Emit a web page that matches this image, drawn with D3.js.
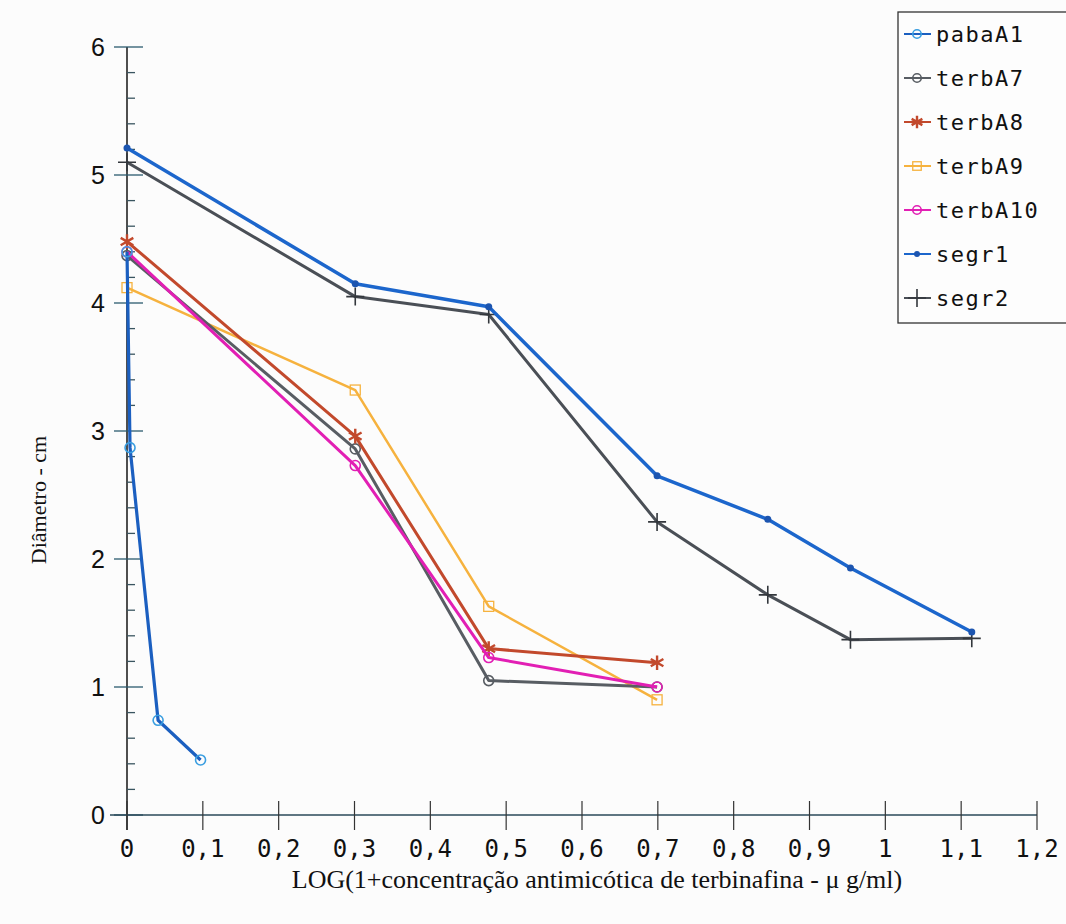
<!DOCTYPE html>
<html>
<head>
<meta charset="utf-8">
<script src="https://cdn.jsdelivr.net/npm/d3@7"></script>
<style>
  body { margin: 0; background: #fcfcfc; }
  svg { display: block; }
</style>
</head>
<body>
<svg id="chart" width="1066" height="924"></svg>
<script>
// log(1+conc) positions and diameters (cm)
var xTicks = [0, 0.1, 0.2, 0.3, 0.4, 0.5, 0.6, 0.7, 0.8, 0.9, 1, 1.1, 1.2];
var yTicks = [0, 1, 2, 3, 4, 5, 6];

var pabaA1X = [0, 0.004, 0.041, 0.097];
var pabaA1Y = [4.40, 2.87, 0.74, 0.43];
var terbX = [0, 0.301, 0.477, 0.699];
var terbA7Y = [4.37, 2.86, 1.05, 1.00];
var terbA8Y = [4.48, 2.96, 1.30, 1.19];
var terbA9Y = [4.12, 3.32, 1.63, 0.90];
var terbA10Y = [4.40, 2.73, 1.23, 1.00];
var segrX = [0, 0.301, 0.477, 0.699, 0.845, 0.954, 1.114];
var segr1Y = [5.21, 4.15, 3.97, 2.65, 2.31, 1.93, 1.43];
var segr2Y = [5.10, 4.05, 3.91, 2.29, 1.72, 1.37, 1.38];

var names = ["pabaA1", "terbA7", "terbA8", "terbA9", "terbA10", "segr1", "segr2"];

var series = [
  {name: "pabaA1", xs: pabaA1X, ys: pabaA1Y, line: "#1b5fc0", mark: "#3a9ee0", w: 3.2, sym: "circle"},
  {name: "terbA7", xs: terbX, ys: terbA7Y, line: "#585d63", mark: "#585d63", w: 3, sym: "circle"},
  {name: "terbA8", xs: terbX, ys: terbA8Y, line: "#c2492c", mark: "#c2492c", w: 3, sym: "star"},
  {name: "terbA9", xs: terbX, ys: terbA9Y, line: "#f6b23e", mark: "#f6b23e", w: 2.5, sym: "square"},
  {name: "terbA10", xs: terbX, ys: terbA10Y, line: "#e21fb4", mark: "#e21fb4", w: 3, sym: "circle"},
  {name: "segr1", xs: segrX, ys: segr1Y, line: "#1c66cc", mark: "#1c55b0", w: 3.5, sym: "dot"},
  {name: "segr2", xs: segrX, ys: segr2Y, line: "#4a4f56", mark: "#33373c", w: 3, sym: "plus"}
];

var svg = d3.select("svg#chart");

var x = d3.scaleLinear().domain([0, 1.2]).range([127, 1037]);
var y = d3.scaleLinear().domain([0, 6]).range([815, 47]);

// y axis
var g = svg.append("g");
g.append("line").attr("x1", x(0)).attr("x2", x(0)).attr("y1", y(6)).attr("y2", y(0) + 15)
  .attr("stroke", "#222").attr("stroke-width", 1.6);
d3.range(0, 6.01, 0.2).forEach(function(v) {
  var major = Math.abs(v - Math.round(v)) < 1e-6;
  g.append("line")
    .attr("x1", x(0) - (major ? 13 : 0)).attr("x2", x(0) + (major ? 16 : 8))
    .attr("y1", y(v)).attr("y2", y(v))
    .attr("stroke", major ? "#2b5a6e" : "#3a5560").attr("stroke-width", 1.3);
});
g.selectAll(".ylab").data(yTicks).enter().append("text")
  .attr("x", 105).attr("y", function(d) { return y(d); })
  .attr("dy", "0.36em").attr("text-anchor", "end")
  .attr("font-family", "Liberation Sans, Arial, sans-serif").attr("font-size", 25)
  .attr("fill", "#111").text(function(d) { return d; });

// x axis
g.append("line").attr("x1", x(0) - 17).attr("x2", x(1.2)).attr("y1", y(0)).attr("y2", y(0))
  .attr("stroke", "#2b4a5a").attr("stroke-width", 1.6);
g.selectAll(".xt").data(xTicks).enter().append("line")
  .attr("x1", function(d) { return x(d); }).attr("x2", function(d) { return x(d); })
  .attr("y1", y(0) - 14).attr("y2", y(0) + 15)
  .attr("stroke", "#333").attr("stroke-width", 1.2);
g.selectAll(".xlab").data(xTicks).enter().append("text")
  .attr("x", function(d) { return x(d); }).attr("y", y(0) + 42)
  .attr("text-anchor", "middle")
  .attr("font-family", "DejaVu Sans Mono, monospace").attr("font-size", 24)
  .attr("fill", "#111")
  .text(function(d) { return String(d).replace(".", ","); });

// axis titles
svg.append("text")
  .attr("transform", "translate(46," + 500 + ") rotate(-90)")
  .attr("text-anchor", "middle")
  .attr("font-family", "Liberation Serif, Times New Roman, serif").attr("font-size", 22)
  .attr("fill", "#111").text("Diâmetro - cm");
svg.append("text")
  .attr("x", 597).attr("y", 888).attr("text-anchor", "middle")
  .attr("font-family", "Liberation Serif, Times New Roman, serif").attr("font-size", 26)
  .attr("fill", "#111")
  .text("LOG(1+concentração antimicótica de terbinafina -  \u03BC g/ml)");

// lines
var line = d3.line().x(function(d) { return x(d[0]); }).y(function(d) { return y(d[1]); });

function drawMarker(sel, s, cx, cy, scale) {
  var k = scale || 1;
  if (s.sym === "circle") {
    sel.append("circle").attr("cx", cx).attr("cy", cy).attr("r", 5 * k)
      .attr("fill", "none").attr("stroke", s.mark).attr("stroke-width", 1.6);
  } else if (s.sym === "square") {
    sel.append("rect").attr("x", cx - 5 * k).attr("y", cy - 5 * k)
      .attr("width", 10 * k).attr("height", 10 * k)
      .attr("fill", "none").attr("stroke", s.mark).attr("stroke-width", 1.3);
  } else if (s.sym === "star") {
    sel.append("path").attr("transform", "translate(" + cx + "," + cy + ")")
      .attr("d", d3.symbol().type(d3.symbolAsterisk).size(150 * k * k)())
      .attr("fill", "none").attr("stroke", s.mark).attr("stroke-width", 2.4);
  } else if (s.sym === "dot") {
    sel.append("circle").attr("cx", cx).attr("cy", cy).attr("r", 3.5 * k).attr("fill", s.mark);
  } else if (s.sym === "plus") {
    sel.append("path").attr("transform", "translate(" + cx + "," + cy + ")")
      .attr("d", "M-9,0H9M0,-9V9").attr("stroke", s.mark).attr("stroke-width", 1.6);
  }
}

// draw back-to-front so pabaA1 sits on top near the axis
var order = [6, 5, 3, 1, 2, 4, 0];
order.forEach(function(i) {
  var s = series[i];
  var pts = s.xs.map(function(v, j) { return [v, s.ys[j]]; });
  var sg = svg.append("g").attr("class", "series");
  sg.append("path").datum(pts).attr("d", line)
    .attr("fill", "none").attr("stroke", s.line).attr("stroke-width", s.w)
    .attr("stroke-linejoin", "round");
  pts.forEach(function(p) { drawMarker(sg, s, x(p[0]), y(p[1])); });
});

// legend
var lg = svg.append("g").attr("transform", "translate(898,12)");
lg.append("rect").attr("x", 0).attr("y", 0).attr("width", 180).attr("height", 311)
  .attr("fill", "#fdfdfd").attr("stroke", "#333").attr("stroke-width", 1.3);
series.forEach(function(s, i) {
  var ly = 22 + i * 44;
  lg.append("line").attr("x1", 6).attr("x2", 33).attr("y1", ly).attr("y2", ly)
    .attr("stroke", s.line).attr("stroke-width", 2);
  drawMarker(lg, s, 19, ly, 0.85);
  lg.append("text").attr("x", 38).attr("y", ly).attr("dy", "0.35em")
    .attr("font-family", "DejaVu Sans Mono, monospace").attr("font-size", 22)
    .attr("letter-spacing", 1.5).attr("fill", "#111").text(names[i]);
});
</script>
</body>
</html>
